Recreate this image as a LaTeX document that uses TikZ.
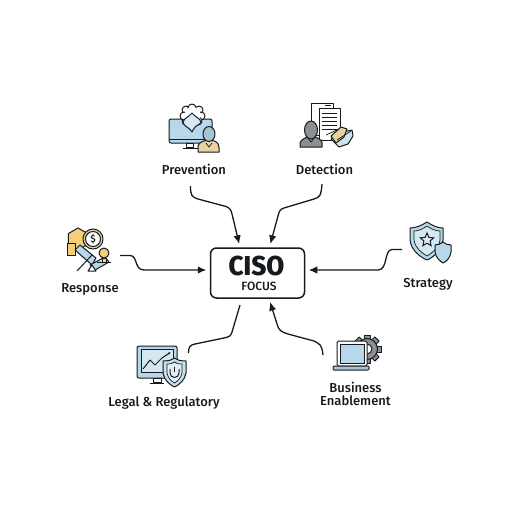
\documentclass[tikz,border=0pt]{standalone}
\usepackage{fontspec}
\setmainfont{Fira Sans Medium}
\usetikzlibrary{arrows.meta,positioning,calc,shapes.geometric}
\definecolor{ink}{HTML}{161A1D}
\definecolor{sky}{HTML}{B7D8EA}
\definecolor{tan}{HTML}{E9D1A2}
\definecolor{honey}{HTML}{F3CF78}
\definecolor{slate}{HTML}{8C9094}
\definecolor{mist}{HTML}{A9C3D3}
\tikzset{
  label/.style={font=\fontsize{13}{13.4}\selectfont, text=ink, inner sep=0pt, align=center},
  hub/.style={draw=ink, line width=1.5pt, rounded corners=6pt, fill=white, minimum width=94pt, minimum height=50pt, inner sep=0pt},
  arrow/.style={-{Latex[length=8.5pt,width=7.5pt]}, line width=1.3pt, draw=ink, shorten >=3.5pt},
  plain/.style={line width=1.3pt, draw=ink},
  icon/.style={draw=ink, line width=1pt, line join=round},
  thin/.style={draw=ink, line width=0.7pt}
}
\begin{document}
\begin{tikzpicture}[x=1pt,y=-1pt]
  \useasboundingbox (0,0) rectangle (512,512);
  \node[hub] (ciso) at (257.5,273) {};
  \node[font=\fontsize{26}{26}\selectfont\bfseries, text=ink, inner sep=0pt, yscale=1.05] (title) at (256.5,266) {CISO};
  \node[font=\fontsize{12}{12}\selectfont, text=ink, inner sep=0pt] (focus) at (259,286.5) {FOCUS};
  \node[label] (prevention) at (194,169) {Prevention};
  \node[label] (detection) at (324.5,169) {Detection};
  \node[label] (response) at (90,289) {Response};
  \node[label] (strategy) at (428,284) {Strategy};
  \node[label] (legal) at (164,403) {Legal \& Regulatory};
  \node[label] (business) at (355.5,394) {Business\\Enablement};
  \coordinate (p0) at (190.5,186);
  \coordinate (d0) at (322,184);
  \coordinate (r0) at (120,255.5);
  \coordinate (s0) at (402,249.5);
  \coordinate (l0) at (188.5,353);
  \coordinate (b0) at (323,355);
  \draw[arrow] (p0) .. controls (190.5,196) and (192,197) .. (198,199) -- (226,206.5) .. controls (230,208) and (231,210) .. (232,214) -- ([xshift=-17.5pt]ciso.north);
  \draw[arrow] (d0) .. controls (321,196) and (320,197) .. (314,199) -- (284,208) .. controls (280,209) and (279,212) .. (278,216) -- ([xshift=12pt]ciso.north);
  \draw[arrow] (r0) -- (130,255.5) .. controls (138,255.5) and (134,270) .. (144,270) -- ([yshift=3pt]ciso.west);
  \draw[arrow] (s0) -- (392,249.5) .. controls (384,249.5) and (388,270) .. (378,270) -- ([yshift=3pt]ciso.east);
  \draw[plain] (l0) .. controls (188.5,347) and (190,345) .. (195,344) -- (224,338) .. controls (229,337) and (231,336) .. (232,332) -- (240,305);
  \draw[arrow] (b0) .. controls (322,345) and (320,344) .. (314,341) -- (288,334) .. controls (282,332) and (280,331) .. (278,327) -- ([xshift=11.5pt]ciso.south);
  % prevention
  \draw[icon, fill=sky, rounded corners=2pt] (169,119) rectangle (212,143);
  \draw[icon] (169,139) -- (212,139);
  \draw[icon, fill=white] (186,143) rectangle (193,147);
  \draw[icon] (183,148) -- (198,148);
  \foreach \cx/\cy in {186/110,192/108,199/110,201/116,198/121,186/121,184/116}
    \draw[icon, fill=white] (\cx,\cy) circle (4);
  \fill[white] (192.5,115) circle (8);
  \draw[icon, fill=sky!55] (192,113) .. controls (195,117) and (200,118) .. (201,122) .. controls (200,126) and (196,123) .. (192,132) .. controls (188,126) and (184,127) .. (183,122) .. controls (184,118) and (189,117) .. (192,113) -- cycle;
  \draw[icon, fill=tan] (198,152) -- (198,146) .. controls (199,142) and (204,141) .. (207,140) -- (211,140) .. controls (215,141) and (219,142) .. (219,148) -- (219,152) -- cycle;
  \draw[icon, fill=mist] (209,134) ellipse (6 and 7.5);
  \draw[thin] (206,143) -- (209,147) -- (212,143);
  % detection
  \draw[icon, fill=white] (311,103) rectangle (333,135);
  \draw[icon, fill=white] (319,108) rectangle (340,140);
  \foreach \ly in {113,117,121,125,129}
    \draw[thin] (322,\ly) -- (337,\ly);
  \draw[thin] (325,105.5) -- (331,105.5);
  \draw[icon, fill=slate] (300,147) -- (300,143) .. controls (301,139) and (306,138) .. (309,136) -- (313,136) .. controls (317,138) and (322,139) .. (322,143) -- (322,147) -- cycle;
  \draw[icon, fill=slate] (311,130) ellipse (6.5 and 9);
  \draw[thin] (308,138) -- (311,142) -- (314,138);
  \draw[icon, fill=sky!70] (331,139) -- (339,133) -- (352,130) -- (353,136) -- (348,144) -- (339,147) -- cycle;
  \draw[icon, fill=tan] (331,136) -- (341,127) -- (347,129) -- (344,137) -- (336,143) -- cycle;
  \draw[thin] (326,135) -- (339,129);
  \draw[thin] (337,140) -- (351,131);
  % response
  \node[draw=ink, line width=1pt, fill=honey, regular polygon, regular polygon sides=6, rotate=30, minimum size=22pt, inner sep=0pt] (hexa) at (78,239) {};
  \draw[icon, fill=honey] (67,243) rectangle (75,255);
  \draw[icon, fill=sky] (75,250) -- (80,245) -- (96,258) -- (92,265) -- cycle;
  \draw[icon, fill=sky] (105,257) -- (109,262) -- (95,270) -- (90,265) -- cycle;
  \draw[icon] (77,271) -- (92,255);
  \draw[icon, fill=white] (88,271) -- (92,265) -- (96,271) -- cycle;
  \draw[icon, fill=tan] (93,239) circle (10);
  \draw[icon, fill=white] (93,239) circle (7.5);
  \node[font=\fontsize{10}{10}\selectfont, text=ink, inner sep=0pt] (dollar) at (93,239) {\$};
  \draw[icon, fill=honey] (104,253) circle (5);
  \draw[icon, fill=tan] (102,258) rectangle (106,262);
  \draw[icon] (97,262) -- (111,262);
  % legal
  \draw[icon, fill=sky, rounded corners=2pt] (137,346) rectangle (177,378);
  \draw[icon, fill=sky!60] (141,349) rectangle (173,372);
  \draw[icon, fill=white] (153,378) rectangle (161,382);
  \draw[icon] (150,383) -- (164,383);
  \draw[icon, -{Latex[length=3pt]}] (143,369) -- (150,360) -- (155,365) -- (162,358) -- (171,352);
  \draw[icon, fill=sky!80] (174.5,358) .. controls (170,361) and (167,361) .. (163,361) -- (163,373) .. controls (164,380) and (170,385) .. (174.5,387) .. controls (179,385) and (185,380) .. (186,373) -- (186,361) .. controls (182,361) and (179,361) .. (174.5,358) -- cycle;
  \draw[thin, fill=sky!40] (174.5,362) .. controls (172,364) and (170,364) .. (167,364) -- (167,373) .. controls (168,378) and (171,381) .. (174.5,383) .. controls (178,381) and (181,378) .. (182,373) -- (182,364) .. controls (179,364) and (177,364) .. (174.5,362) -- cycle;
  \draw[icon] (170,369) -- (170,373) arc[start angle=180, end angle=0, radius=4.5] -- (179,369);
  \draw[icon] (174.5,367) -- (174.5,372);
  % business
  \foreach \ang in {0,45,...,315}
    \draw[icon, fill=slate, rotate around={\ang:(367,349)}] (364,335) rectangle (370,340);
  \draw[icon, fill=slate] (367,349) circle (10.5);
  \draw[icon, fill=white] (367,349) circle (5);
  \draw[icon, fill=white, rounded corners=1.5pt] (337,341) rectangle (367,366);
  \draw[thin, fill=sky] (340,344) rectangle (364,363);
  \draw[icon, fill=mist, rounded corners=1pt] (333,366) rectangle (369,370);
  % strategy
  \draw[icon, fill=sky] (427,222) .. controls (421,226) and (415,228) .. (410,228) -- (410,240) .. controls (411,250) and (420,257) .. (427,260) .. controls (434,257) and (442,250) .. (443,240) -- (443,228) .. controls (438,228) and (433,226) .. (427,222) -- cycle;
  \draw[thin, fill=sky!60] (427,226) .. controls (423,229) and (418,231) .. (414,231) -- (414,240) .. controls (415,248) and (422,253) .. (427,256) .. controls (432,253) and (439,248) .. (440,240) -- (440,231) .. controls (436,231) and (431,229) .. (427,226) -- cycle;
  \node[draw=ink, line width=1pt, fill=sky!40, star, star points=5, star point ratio=2.2, minimum size=14pt, inner sep=0pt] (badge) at (427,240) {};
  \draw[icon, fill=sky] (443,242) .. controls (441,244) and (438,245) .. (435,245) -- (435,252) .. controls (436,258) and (440,261) .. (443,263) .. controls (447,261) and (450,258) .. (451,252) -- (451,245) .. controls (448,245) and (445,244) .. (443,242) -- cycle;
\end{tikzpicture}
\end{document}
